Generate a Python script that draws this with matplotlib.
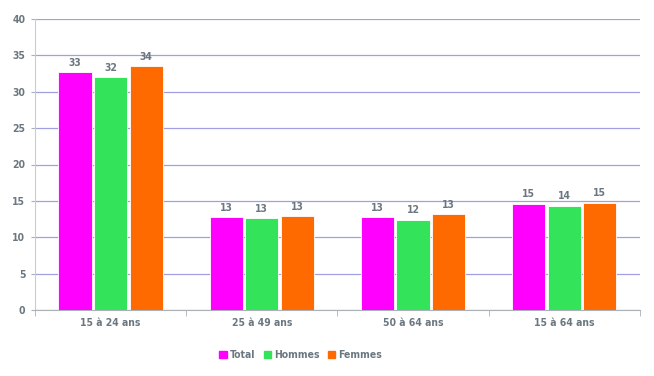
import numpy as np
import matplotlib.pyplot as plt
from matplotlib.patches import Patch

categories = ['15 à 24 ans', '25 à 49 ans', '50 à 64 ans', '15 à 64 ans']
total = [32.7, 12.8, 12.8, 14.6]
hommes = [32.0, 12.65, 12.4, 14.35]
femmes = [33.5, 12.9, 13.2, 14.75]
labels_total = ['33', '13', '13', '15']
labels_hommes = ['32', '13', '12', '14']
labels_femmes = ['34', '13', '13', '15']

plt.rcParams['font.family'] = ['DejaVu Sans']
plt.rcParams['font.stretch'] = 'condensed'
plt.rcParams['font.weight'] = 'bold'
txt = '#6b7780'
colors = ['#ff00ff', '#33e35a', '#ff6a00']

fig = plt.figure(figsize=(6.54, 3.76), dpi=100)
ax = fig.add_axes([0.0535, 0.1755, 0.925, 0.774])

x = np.arange(len(categories))
w = 0.22
step = 0.235
series = [(total, labels_total, 'Total'), (hommes, labels_hommes, 'Hommes'), (femmes, labels_femmes, 'Femmes')]
for i, (vals, labs, name) in enumerate(series):
    pos = x + (i - 1) * step
    bars = ax.bar(pos, vals, w, color=colors[i], edgecolor='white', linewidth=0.6, zorder=3)
    for b, l in zip(bars, labs):
        ax.text(b.get_x() + b.get_width() / 2, b.get_height() + 0.6, l, ha='center', va='bottom',
                fontsize=7.5, color=txt)

ax.set_xlim(-0.5, 3.5)
ax.set_ylim(0, 40)
ax.set_yticks(range(0, 41, 5))
ax.yaxis.grid(True, color='#a0a0e0', linewidth=0.9, zorder=0)
ax.set_xticks(x)
ax.set_xticklabels(categories)
ax.set_xticks(np.arange(-0.5, 4.0, 1), minor=True)
ax.tick_params(axis='x', which='major', length=0, pad=6, labelsize=7.5, labelcolor=txt)
ax.tick_params(axis='x', which='minor', length=4, color='#aab2b8')
ax.tick_params(axis='y', length=3, color='#aab2b8', labelsize=7.5, labelcolor=txt, pad=4)
for s in ['top', 'right']:
    ax.spines[s].set_visible(False)
ax.spines['left'].set_color('#c8cdd1')
ax.spines['bottom'].set_color('#aab2b8')

handles = [Patch(color=c, label=n) for c, (_, _, n) in zip(colors, series)]
leg = fig.legend(handles=handles, loc='center', bbox_to_anchor=(0.46, 0.055), ncol=3, frameon=False,
                 fontsize=7.5, handlelength=0.7, handleheight=0.7, handletextpad=0.3, columnspacing=0.8)
for t in leg.get_texts():
    t.set_color(txt)

fig.savefig('out.png', dpi=100)
